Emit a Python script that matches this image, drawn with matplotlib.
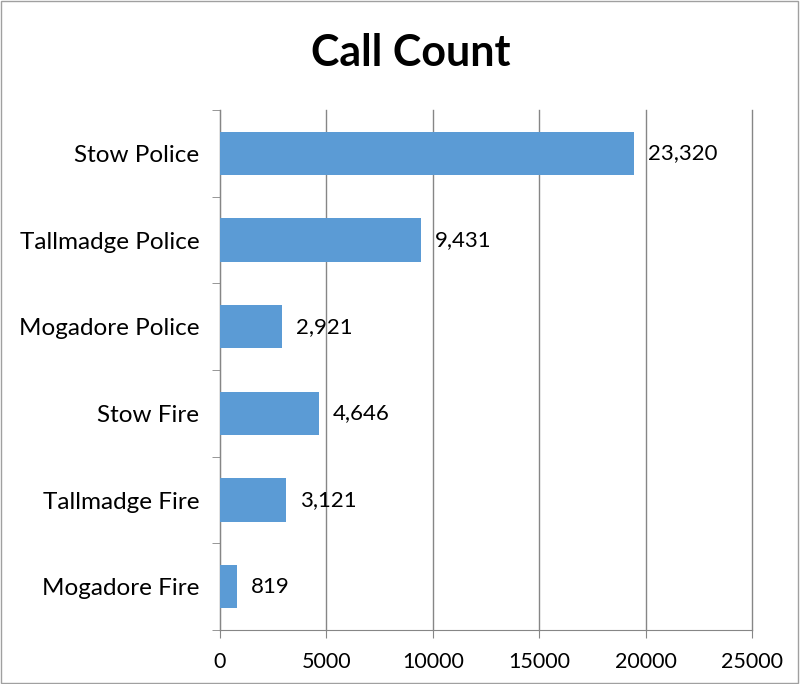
import matplotlib
matplotlib.use("Agg")
from matplotlib import pyplot as plt
from matplotlib.patches import Rectangle

plt.rcParams['font.family'] = ['Lato', 'DejaVu Sans']

categories = ["Stow Police", "Tallmadge Police", "Mogadore Police",
              "Stow Fire", "Tallmadge Fire", "Mogadore Fire"]
# bar lengths as drawn in the picture (the first bar is drawn shorter than its label)
values = [19450, 9431, 2921, 4646, 3121, 819]
labels = ["23,320", "9,431", "2,921", "4,646", "3,121", "819"]
xticks = [0, 5000, 10000, 15000, 20000, 25000]

fig = plt.figure(figsize=(8, 6.84), dpi=100)
ax = fig.add_axes([0.275, 0.079, 0.665, 0.760])

y = list(range(len(categories)))
ax.barh(y, values, height=0.5, color="#5B9BD5", zorder=3)
for i in y:
    ax.text(values[i] + 650, i, labels[i], va="center", ha="left", fontsize=16, zorder=4)

ax.set_xlim(0, 25000)
ax.set_ylim(len(categories) - 0.5, -0.5)
ax.set_xticks(xticks)
ax.set_xticklabels([str(t) for t in xticks], fontsize=15.5)
ax.set_yticks(y)
ax.set_yticklabels(categories, fontsize=17.5)
ax.tick_params(axis="y", length=0, pad=15)
ax.set_yticks([i - 0.5 for i in range(len(categories) + 1)], minor=True)
ax.tick_params(axis="y", which="minor", length=6, color="#868686")
ax.tick_params(axis="x", length=6, color="#868686", pad=10)
ax.grid(axis="x", color="#868686", linewidth=1, zorder=0)
for g in ax.xaxis.get_gridlines():
    g.set_clip_on(False)

for s in ["top", "right"]:
    ax.spines[s].set_visible(False)
for s in ["left", "bottom"]:
    ax.spines[s].set_color("#868686")

fig.text(0.514, 0.922, "Call Count", ha="center", va="center", fontsize=31, fontweight="bold")
fig.patches.append(Rectangle((0.001, 0.002), 0.997, 0.996, transform=fig.transFigure,
                             fill=False, edgecolor="#A0A0A0", linewidth=1))

plt.savefig("out.png")
